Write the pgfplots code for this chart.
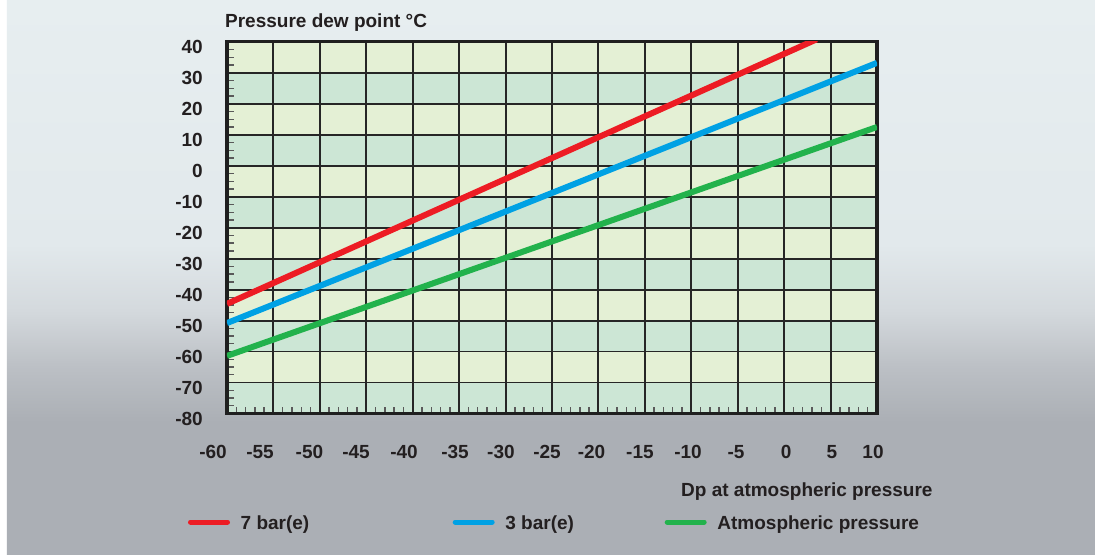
\documentclass[border=0pt]{standalone}
\usepackage{fontspec}
\setmainfont{Liberation Sans}
\usepackage{pgfplots}
\pgfplotsset{compat=1.18}
\pgfdeclarelayer{background}
\pgfsetlayers{background,main}
\definecolor{bandY}{RGB}{228,240,213}
\definecolor{bandG}{RGB}{204,230,213}
\definecolor{bgtop}{RGB}{231,238,240}
\definecolor{bgup}{RGB}{226,233,236}
\definecolor{bgmid}{RGB}{212,217,221}
\definecolor{bglow}{RGB}{188,192,197}
\definecolor{bgbot}{RGB}{171,175,181}
\definecolor{cRed}{RGB}{237,28,36}
\definecolor{cBlue}{RGB}{0,161,228}
\definecolor{cGreen}{RGB}{34,178,76}
\definecolor{txt}{RGB}{35,31,32}
\newcommand\myfont{\fontsize{19bp}{22bp}\selectfont\bfseries}
\newcommand\xl[2]{\makebox[0pt]{\hspace*{#1bp}\hspace*{#1bp}#2}}
\pgfdeclareverticalshading{bgshade}{100bp}{color(0bp)=(bgbot); color(37bp)=(bgbot); color(42bp)=(bglow); color(47bp)=(bgmid); color(53bp)=(bgup); color(75bp)=(bgtop); color(100bp)=(bgtop)}
\pgfplotsset{myleg/.style={legend image code/.code={%
  \path[draw=none, fill=none] (0bp,-2bp) rectangle (52.7bp,2bp);
  \draw[line width=5bp, line cap=round] (2.5bp,1.3bp) -- (39.5bp,1.3bp);}}}
\begin{document}
\begin{tikzpicture}
% bands
\begin{axis}[name=bands,
  at={(0bp,0bp)}, anchor=south west,
  scale only axis, width=650bp, height=371.7bp,
  xmin=-60, xmax=10, ymin=-80, ymax=40,
  hide axis]
  \fill[bandY] (axis cs:-60,-80) rectangle (axis cs:10,40);
  \fill[bandG] (axis cs:-60,-80) rectangle (axis cs:10,-70);
  \fill[bandG] (axis cs:-60,-60) rectangle (axis cs:10,-50);
  \fill[bandG] (axis cs:-60,-40) rectangle (axis cs:10,-30);
  \fill[bandG] (axis cs:-60,-20) rectangle (axis cs:10,-10);
  \fill[bandG] (axis cs:-60,0) rectangle (axis cs:10,10);
  \fill[bandG] (axis cs:-60,20) rectangle (axis cs:10,30);
\end{axis}
\begin{axis}[name=main,
  at={(0bp,0bp)}, anchor=south west,
  scale only axis, width=650bp, height=371.7bp,
  xmin=-60, xmax=10, ymin=-80, ymax=40,
  xtick={-60,-55,...,10},
  xticklabels={{\xl{-14}{-60}},{\xl{-13.4}{-55}},{\xl{-10.4}{-50}},{\xl{-10.3}{-45}},{\xl{-8.7}{-40}},{\xl{-4.1}{-35}},{\xl{-4.6}{-30}},{\xl{-5}{-25}},{\xl{-6.9}{-20}},{\xl{-4.9}{-15}},{\xl{-3.3}{-10}},{\xl{-1.7}{-5}},{\xl{1.9}{0}},{\xl{1.4}{5}},{\xl{-4}{10}}},
  ytick={-80,-70,...,40},
  yticklabels={-80,-70,-60,-50,-40,-30,-20,-10,0,10,20,30,40},
  minor x tick num=4, minor y tick num=3,
  tick align=inside, tick pos=left,
  major tick length=0pt, minor tick length=7bp,
  grid=major,
  major grid style={line width=1.9bp, color=black!85},
  axis line style={line width=3.4bp, color=black!88},
  tick style={line width=1.3bp, color=black!65},
  tick label style={font=\myfont, text=txt, inner sep=0pt},
  xticklabel style={anchor=base, yshift=-44.5bp},
  yticklabel style={anchor=east, xshift=-24bp, yshift=-5bp},
  xlabel={Dp at atmospheric pressure},
  ylabel={Pressure dew point °C},
  every axis x label/.style={at={(axis description cs:1.0857,-0.222)}, anchor=base east, font=\myfont, text=txt, inner sep=0pt},
  every axis y label/.style={at={(axis description cs:-0.0031,1.039)}, anchor=base west, font=\myfont, text=txt, inner sep=0pt},
  legend columns=3,
  legend cell align=left,
  legend style={draw=none, fill=none, at={(-0.06,-0.2954)}, anchor=west,
    inner sep=0pt, outer sep=0pt, column sep=0pt, row sep=0pt,
    nodes={inner sep=0pt, outer sep=0pt, font=\myfont, text=txt}},
]
\addplot[cRed, line width=6bp, myleg] coordinates {(-60,-44.6) (3.5,40.8)};
\addlegendentry{\makebox[212bp][l]{7 bar(e)}}
\addplot[cBlue, line width=6bp, myleg] coordinates {(-60,-50.8) (10,33.2)};
\addlegendentry{\makebox[159.3bp][l]{3 bar(e)}}
\addplot[cGreen, line width=6bp, myleg] coordinates {(-60,-61.4) (10,12.5)};
\addlegendentry{Atmospheric pressure}
\end{axis}
\begin{pgfonlayer}{background}
\fill[white] ([shift={(-227bp,-141.5bp)}]main.south west) rectangle ([shift={(868bp,413.5bp)}]main.south west);
\shade[shading=bgshade] ([shift={(-220bp,-141.5bp)}]main.south west) rectangle ([shift={(868bp,413.5bp)}]main.south west);
\end{pgfonlayer}
\pgfresetboundingbox
\path[use as bounding box] ([shift={(-227bp,-141.5bp)}]main.south west) rectangle ([shift={(868bp,413.5bp)}]main.south west);
\end{tikzpicture}
\end{document}
